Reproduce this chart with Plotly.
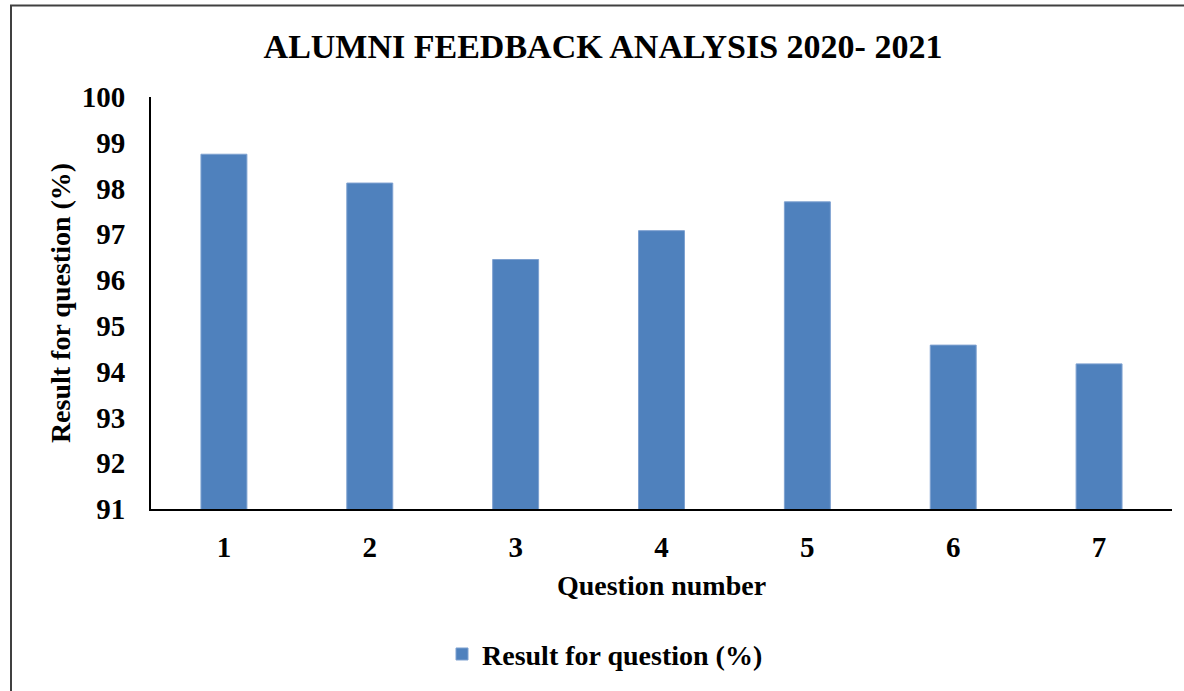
import plotly.graph_objects as go

questions = ["1", "2", "3", "4", "5", "6", "7"]
results = [98.75, 98.12, 96.45, 97.08, 97.71, 94.58, 94.17]
y_ticks = [91, 92, 93, 94, 95, 96, 97, 98, 99, 100]

FONT = "Liberation Serif"

fig = go.Figure()
fig.add_trace(go.Bar(
    x=questions, y=results, name="Result for question (%)",
    marker=dict(color="#4F81BD", line=dict(color="#7EA1D0", width=1)),
))

W, H = 1184, 691
L, R, T, B = 151, 12, 97, 180
pw = W - L - R
ph = H - T - B

def px_x(p):
    return (p - L) / pw

def px_y(p):
    return (H - B - p) / ph

fig.update_layout(
    width=W, height=H,
    margin=dict(l=L, r=R, t=T, b=B),
    paper_bgcolor="white", plot_bgcolor="white",
    bargap=0.685,
    font=dict(family=FONT, color="black"),
    title=dict(text="<b>ALUMNI FEEDBACK ANALYSIS 2020- 2021</b>",
               x=603 / W, xanchor="center", xref="container",
               y=1 - 46 / H, yanchor="middle",
               font=dict(family=FONT, size=34, color="black", weight="bold")),
    showlegend=True,
    legend=dict(orientation="h", x=px_x(605), xanchor="center",
                y=px_y(657), yanchor="middle",
                font=dict(family=FONT, size=28, color="black", weight="bold"),
                bgcolor="rgba(0,0,0,0)"),
    xaxis=dict(
        showline=True, linecolor="black", linewidth=2,
        ticks="outside", ticklen=11, tickcolor="rgba(0,0,0,0)",
        tickfont=dict(family=FONT, size=29, color="black", weight="bold"),
        title=dict(text="<b>Question number</b>", standoff=14,
                   font=dict(family=FONT, size=28, color="black", weight="bold")),
        showgrid=False,
    ),
    yaxis=dict(
        range=[91, 100], tickvals=y_ticks,
        showline=True, linecolor="black", linewidth=2,
        ticks="outside", ticklen=18, tickcolor="rgba(0,0,0,0)",
        tickfont=dict(family=FONT, size=29, color="black", weight="bold"),
        title=dict(text="<b>Result for question (%)</b>", standoff=3,
                   font=dict(family=FONT, size=28, color="black", weight="bold")),
        showgrid=False, zeroline=False,
    ),
)

fig.add_shape(type="rect", xref="paper", yref="paper",
              x0=px_x(11), x1=px_x(1200), y0=px_y(720), y1=px_y(5),
              line=dict(color="#404040", width=2), fillcolor="rgba(0,0,0,0)",
              layer="below")

fig.write_html("out.html",
               config={"displayModeBar": False},
               post_script="document.body.style.margin='0';document.body.style.overflow='hidden';")
